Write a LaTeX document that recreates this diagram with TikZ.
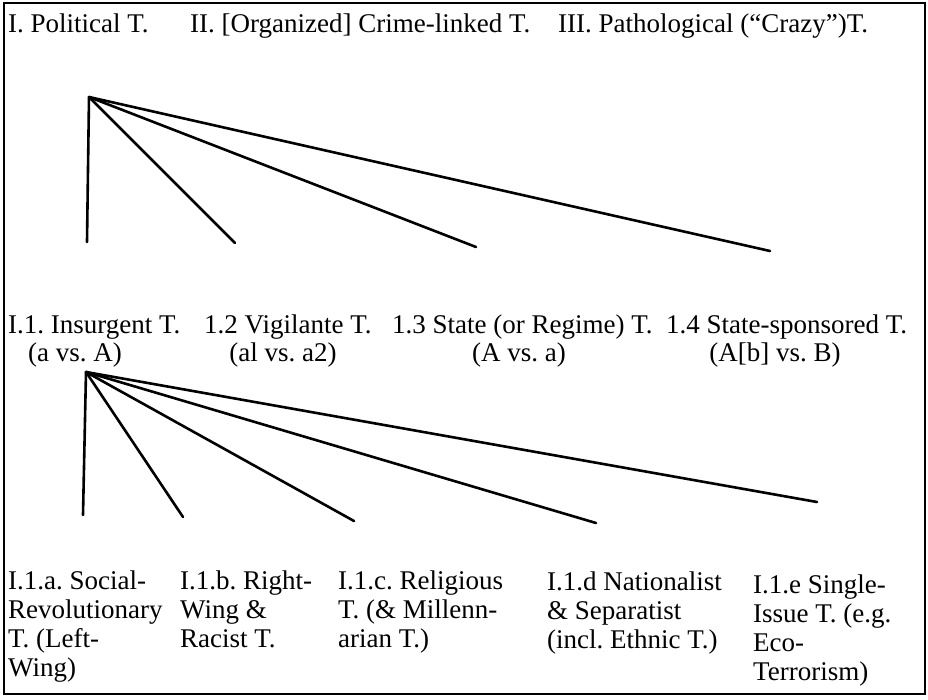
\documentclass[tikz,border=0pt]{standalone}
\usepackage{fontspec}
\setmainfont{Liberation Serif}
\begin{document}
\frenchspacing
\begin{tikzpicture}[x=1pt,y=-1pt,
	lbl/.style={anchor=north west,inner sep=0pt,align=left,font=\fontsize{27}{29}\selectfont},
	pair/.style={anchor=north,inner sep=0pt,font=\fontsize{27}{29}\selectfont},
	branch/.style={line width=2.6pt,line cap=round}]
	\useasboundingbox (0,0) rectangle (928,699);
	\draw[line width=1.4pt] (4,3) rectangle (925,694);

	\node[lbl] (pol) at (8,14) {I. Political T.};
	\node[lbl] (crime) at (190,14) {II. [Organized] Crime-linked T.};
	\node[lbl] (path) at (558,14) {III. Pathological (“Crazy”)T.};

	\node[lbl] (ins) at (8,315) {I.1. Insurgent T.};
	\node[lbl] (vig) at (204,315) {1.2 Vigilante T.};
	\node[lbl] (state) at (392,315) {1.3 State (or Regime) T.};
	\node[lbl] (spons) at (666,315) {1.4 State-sponsored T.};
	\node[pair] (insp) at (75,343) {(a vs. A)};
	\node[pair] (vigp) at (283,343) {(al vs. a2)};
	\node[pair] (statep) at (519,343) {(A vs. a)};
	\node[pair] (sponsp) at (775,343) {(A[b] vs. B)};

	\node[lbl] (soc) at (8,571) {I.1.a. Social-\\Revolutionary\\T. (Left-\\Wing)};
	\node[lbl] (right) at (180,571) {I.1.b. Right-\\Wing \&\\Racist T.};
	\node[lbl] (rel) at (338,571) {I.1.c. Religious\\T. (\& Millenn-\\arian T.)};
	\node[lbl] (nat) at (547,572) {I.1.d Nationalist\\\& Separatist\\(incl. Ethnic T.)};
	\node[lbl] (single) at (753,575) {I.1.e Single-\\Issue T. (e.g.\\Eco-\\Terrorism)};

	\coordinate (top) at (89,97);
	\coordinate (t1) at (87,242);
	\coordinate (t2) at (235,243);
	\coordinate (t3) at (476,247);
	\coordinate (t4) at (770,251);
	\foreach \t in {t1,t2,t3,t4}{
		\draw[branch] (top) edge (\t);
	};

	\coordinate (ins') at (86,372);
	\coordinate (s1) at (83,515);
	\coordinate (s2) at (183,517);
	\coordinate (s3) at (354,521);
	\coordinate (s4) at (596,523);
	\coordinate (s5) at (817,502);
	\foreach \s in {s1,s2,s3,s4,s5}{
		\draw[branch] (ins') edge (\s);
	};
\end{tikzpicture}
\end{document}
